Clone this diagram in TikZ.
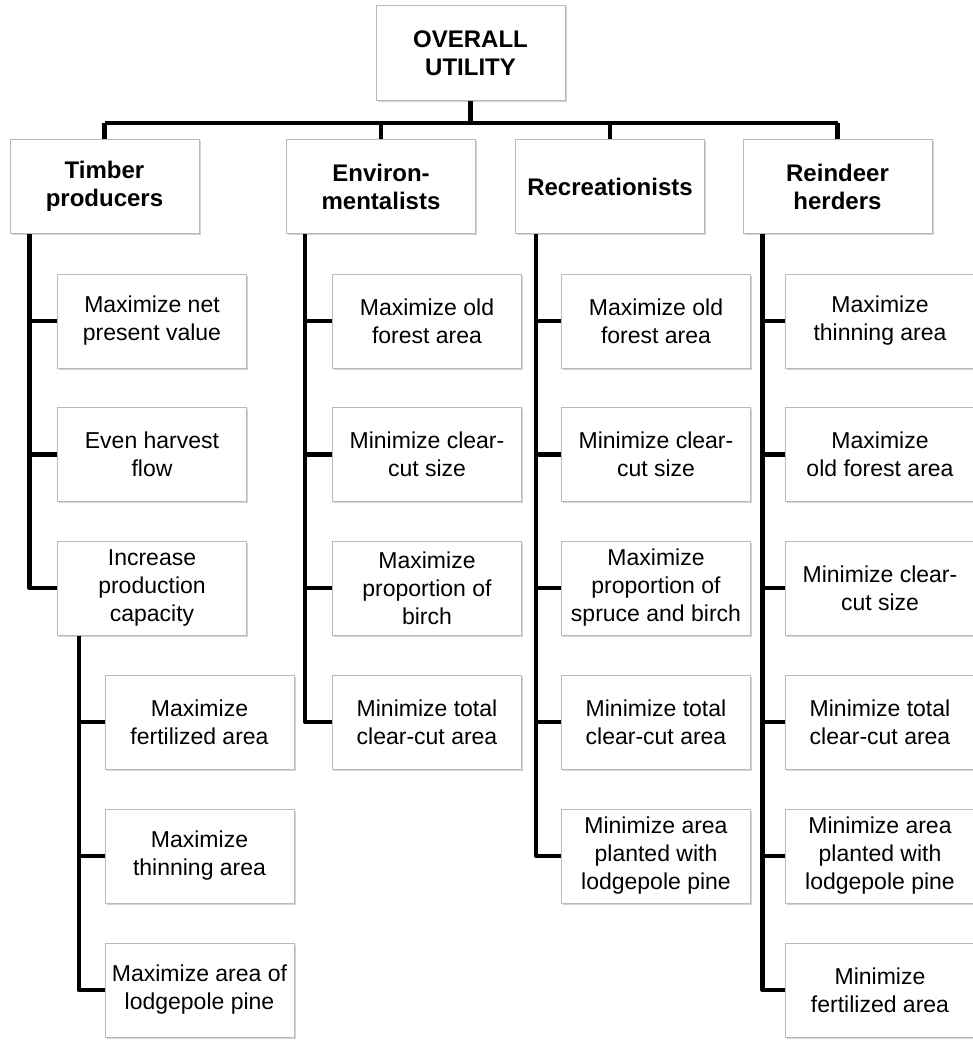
\documentclass[tikz,border=0pt]{standalone}
\usepackage{fontspec}
\setmainfont{Liberation Sans}
\usetikzlibrary{shadows}

\tikzset{
    box/.style={draw=gray!55, line width=1pt, fill=white,
        minimum width=189pt, minimum height=94pt, align=center, inner sep=2pt,
        drop shadow={shadow xshift=1.5pt, shadow yshift=-1.5pt, opacity=0.35, fill=gray}},
    group/.style={box, font=\bfseries\fontsize{24}{28}\selectfont},
    goal/.style={box, font=\fontsize{23}{28}\selectfont},
    conn/.style={line width=4.5pt, line join=round}
}

\begin{document}
\begin{tikzpicture}[x=1pt, y=-1pt]
    \useasboundingbox (0,0) rectangle (972,1041);
    % Top
    \node[group] (top) at (470.5,53) {OVERALL\\UTILITY};
    % Stakeholder groups
    \node[group] (timber) at (104.5,186.5) {Timber\\producers};
    \node[group] (environ) at (381,186.5) {Environ-\\mentalists};
    \node[group] (recr) at (610,186.5) {Recreationists};
    \node[group] (reindeer) at (837.5,186.5) {Reindeer\\herders};
    % Bar under the top box
    \coordinate (bar) at (0,123);
    \draw[conn] (top.south) -- (top.south |- bar);
    \draw[conn] (timber.north |- bar) -- (reindeer.north |- bar);
    \foreach \g in {timber,environ,recr,reindeer}
        \draw[conn] (\g.north |- bar) -- (\g.north);
    % Timber producers
    \foreach \i/\y/\txt in {1/321/{Maximize net\\present value},
                            2/454.5/{Even harvest\\flow},
                            3/588/{Increase\\production\\capacity}} {
        \node[goal] (tp\i) at (152,\y) {\txt};
        \draw[conn] ([xshift=20pt]timber.south west) |- (tp\i.west);
    }
    % Increase production capacity
    \foreach \i/\y/\txt in {1/722/{Maximize\\fertilized area},
                            2/856/{Maximize\\thinning area},
                            3/990/{Maximize area of\\lodgepole pine}} {
        \node[goal] (pc\i) at (199.5,\y) {\txt};
        \draw[conn] ([xshift=22pt]tp3.south west) |- (pc\i.west);
    }
    % Environmentalists
    \foreach \i/\y/\txt in {1/321/{Maximize old\\forest area},
                            2/454.5/{Minimize clear-\\cut size},
                            3/588/{Maximize\\proportion of\\birch},
                            4/722/{Minimize total\\clear-cut area}} {
        \node[goal] (en\i) at (427,\y) {\txt};
        \draw[conn] ([xshift=19pt]environ.south west) |- (en\i.west);
    }
    % Recreationists
    \foreach \i/\y/\txt in {1/321/{Maximize old\\forest area},
                            2/454.5/{Minimize clear-\\cut size},
                            3/588/{Maximize\\proportion of\\spruce and birch},
                            4/722/{Minimize total\\clear-cut area},
                            5/856/{Minimize area\\planted with\\lodgepole pine}} {
        \node[goal] (re\i) at (656,\y) {\txt};
        \draw[conn] ([xshift=21pt]recr.south west) |- (re\i.west);
    }
    % Reindeer herders
    \foreach \i/\y/\txt in {1/321/{Maximize\\thinning area},
                            2/454.5/{Maximize\\old forest area},
                            3/588/{Minimize clear-\\cut size},
                            4/722/{Minimize total\\clear-cut area},
                            5/856/{Minimize area\\planted with\\lodgepole pine},
                            6/990/{Minimize\\fertilized area}} {
        \node[goal] (rh\i) at (880,\y) {\txt};
        \draw[conn] ([xshift=20pt]reindeer.south west) |- (rh\i.west);
    }
\end{tikzpicture}
\end{document}
